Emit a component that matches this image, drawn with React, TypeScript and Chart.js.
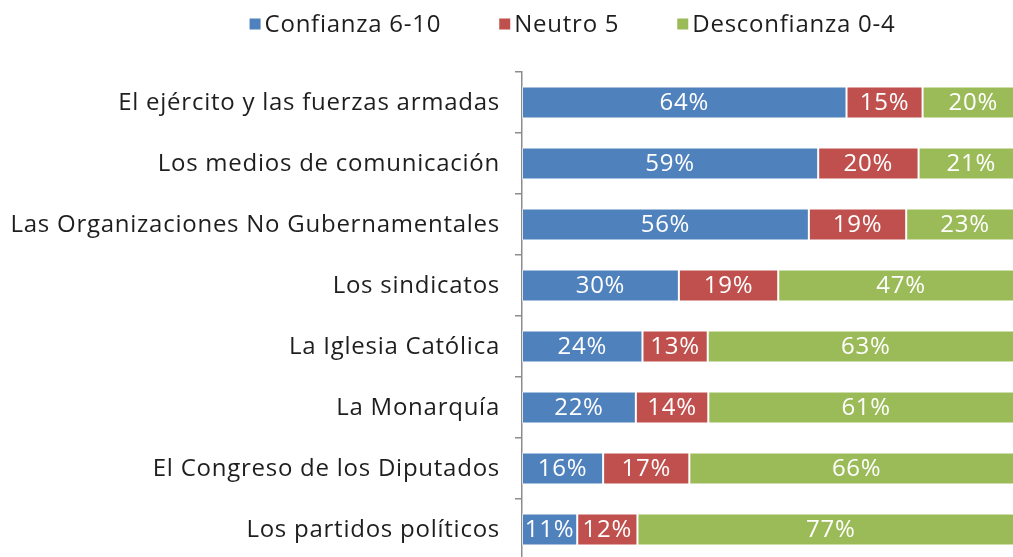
import React, { useEffect, useRef } from "react";
import { Chart, registerables } from "chart.js";

Chart.register(...registerables);

const categories = [
  "El ejército y las fuerzas armadas",
  "Los medios de comunicación",
  "Las Organizaciones No Gubernamentales",
  "Los sindicatos",
  "La Iglesia Católica",
  "La Monarquía",
  "El Congreso de los Diputados",
  "Los partidos políticos",
];
const confianza = [64, 59, 56, 30, 24, 22, 16, 11];
const neutro = [15, 20, 19, 19, 13, 14, 17, 12];
const desconfianza = [20, 21, 23, 47, 63, 61, 66, 77];
const seriesNames = ["Confianza 6-10", "Neutro 5", "Desconfianza 0-4"];
const seriesColors = ["#4F81BD", "#C0504D", "#9BBB59"];

const FONT = "'Open Sans', 'Noto Sans', sans-serif";
const FONT_SIZE = 24;
const LETTER_SPACING = "0.75px";
const TEXT_COLOR = "#1e1e1e";

const seriesValues = [confianza, neutro, desconfianza];
const totals = categories.map((_, i) => seriesValues.reduce((s, arr) => s + arr[i], 0));

const spacingPlugin = {
  id: "letterSpacing",
  beforeDraw(chart: any) {
    chart.ctx.letterSpacing = LETTER_SPACING;
  },
};

const labelsPlugin = {
  id: "segmentLabels",
  afterDatasetsDraw(chart: any) {
    const ctx = chart.ctx;
    ctx.save();
    ctx.letterSpacing = LETTER_SPACING;
    ctx.font = `${FONT_SIZE}px ${FONT}`;
    ctx.fillStyle = "#ffffff";
    ctx.textAlign = "center";
    ctx.textBaseline = "middle";
    chart.data.datasets.forEach((ds: any, di: number) => {
      const meta = chart.getDatasetMeta(di);
      meta.data.forEach((el: any, i: number) => {
        const p = el.getProps(["x", "y", "base"], true);
        const cx = (p.x + p.base) / 2;
        ctx.fillText(`${ds.rawValues[i]}%`, cx, p.y + 1);
      });
    });
    ctx.restore();
  },
};

const legendPlugin = {
  id: "customLegend",
  afterDraw(chart: any) {
    const ctx = chart.ctx;
    ctx.save();
    ctx.letterSpacing = LETTER_SPACING;
    ctx.font = `${FONT_SIZE}px ${FONT}`;
    ctx.textBaseline = "middle";
    ctx.textAlign = "left";
    const box = 11;
    const boxGap = 4;
    const itemGap = 58;
    const widths = seriesNames.map((n) => ctx.measureText(n).width);
    const total =
      widths.reduce((s, w) => s + w + box + boxGap, 0) + itemGap * (seriesNames.length - 1);
    let x = chart.width / 2 - total / 2 - 4;
    const cy = 24;
    seriesNames.forEach((n, i) => {
      ctx.fillStyle = seriesColors[i];
      ctx.fillRect(x, cy - box / 2, box, box);
      x += box + boxGap;
      ctx.fillStyle = TEXT_COLOR;
      ctx.fillText(n, x, cy + 1);
      x += widths[i] + itemGap;
    });
    ctx.restore();
  },
};

export default function App() {
  const ref = useRef<HTMLCanvasElement | null>(null);
  useEffect(() => {
    document.body.style.margin = "0";
    const canvas = ref.current;
    if (!canvas) return;
    const datasets = seriesNames.map((name, s) => ({
      label: name,
      data: seriesValues[s].map((v, i) => (v / totals[i]) * 100),
      rawValues: seriesValues[s],
      backgroundColor: seriesColors[s],
      borderColor: "rgba(255,255,255,0.5)",
      borderWidth: 1,
      borderSkipped: false,
      barPercentage: 0.525,
      categoryPercentage: 1,
    }));
    const chart = new Chart(canvas, {
      type: "bar",
      data: { labels: categories, datasets: datasets as any },
      options: {
        indexAxis: "y",
        responsive: false,
        animation: false,
        layout: { padding: { top: 72, right: 129, bottom: 6, left: 0 } },
        plugins: { legend: { display: false }, tooltip: { enabled: false } },
        scales: {
          x: { display: false, stacked: true, min: 0, max: 100 },
          y: {
            stacked: true,
            afterFit: (scale: any) => {
              scale.width = 522;
              scale.paddingTop = 0;
              scale.paddingBottom = 0;
            },
            grid: {
              drawOnChartArea: false,
              drawTicks: true,
              tickLength: 7,
              color: "#8c8c8c",
              lineWidth: 1.5,
              offset: true,
            },
            border: { color: "#8c8c8c", width: 1.5 },
            ticks: {
              padding: 15,
              labelOffset: 1,
              color: TEXT_COLOR,
              font: { family: FONT, size: FONT_SIZE },
            },
          },
        },
      },
      plugins: [spacingPlugin, labelsPlugin, legendPlugin],
    });
    return () => chart.destroy();
  }, []);
  return (
    <div
      style={{
        position: "fixed",
        left: 0,
        top: 0,
        width: 1013,
        height: 557,
        overflow: "hidden",
        background: "#ffffff",
      }}
    >
      <canvas ref={ref} width={1153} height={566} style={{ display: "block" }} />
    </div>
  );
}
